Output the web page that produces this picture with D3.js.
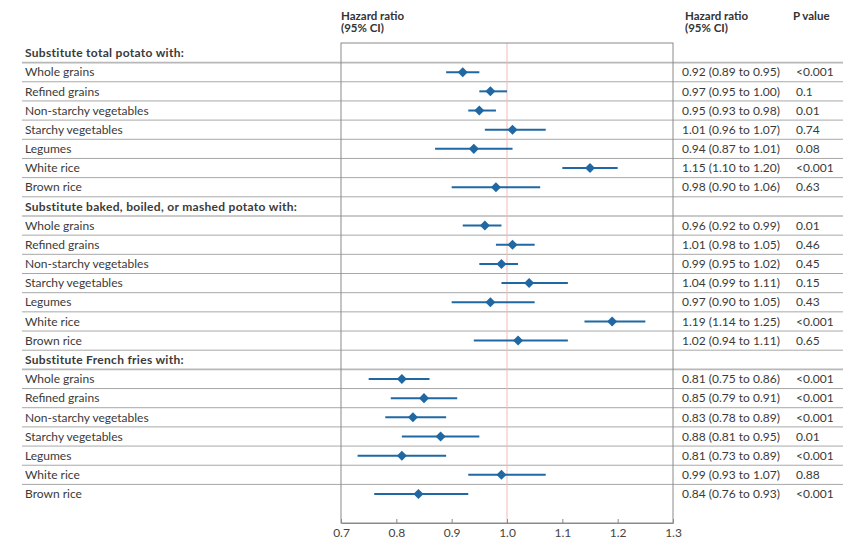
<!DOCTYPE html>
<html>
<head>
<meta charset="utf-8">
<script src="https://cdn.jsdelivr.net/npm/d3@7"></script>
<style>
  body { margin: 0; background: #fff; }
  text { font-family: Lato, "Open Sans", sans-serif; }
</style>
</head>
<body>
<script>
// data
const groups = [
  "Substitute total potato with:",
  "Substitute baked, boiled, or mashed potato with:",
  "Substitute French fries with:"
];
const foods = ["Whole grains", "Refined grains", "Non-starchy vegetables", "Starchy vegetables", "Legumes", "White rice", "Brown rice"];

const hr = [
  [0.92, 0.97, 0.95, 1.01, 0.94, 1.15, 0.98],
  [0.96, 1.01, 0.99, 1.04, 0.97, 1.19, 1.02],
  [0.81, 0.85, 0.83, 0.88, 0.81, 0.99, 0.84]
];
const lower = [
  [0.89, 0.95, 0.93, 0.96, 0.87, 1.10, 0.90],
  [0.92, 0.98, 0.95, 0.99, 0.90, 1.14, 0.94],
  [0.75, 0.79, 0.78, 0.81, 0.73, 0.93, 0.76]
];
const upper = [
  [0.95, 1.00, 0.98, 1.07, 1.01, 1.20, 1.06],
  [0.99, 1.05, 1.02, 1.11, 1.05, 1.25, 1.11],
  [0.86, 0.91, 0.89, 0.95, 0.89, 1.07, 0.93]
];
const pvals = [
  ["<0.001", "0.1", "0.01", "0.74", "0.08", "<0.001", "0.63"],
  ["0.01", "0.46", "0.45", "0.15", "0.43", "<0.001", "0.65"],
  ["<0.001", "<0.001", "<0.001", "0.01", "<0.001", "0.88", "<0.001"]
];
const ticks = [0.7, 0.8, 0.9, 1.0, 1.1, 1.2, 1.3];

// flatten into rows
let rows = [];
groups.forEach((g, gi) => {
  rows.push({ header: true, label: g });
  foods.forEach((f, i) => {
    rows.push({ header: false, label: f, hr: hr[gi][i], lo: lower[gi][i], hi: upper[gi][i], p: pvals[gi][i] });
  });
});

let svg = d3.select("body")
  .append("svg")
  .attr("width", 857)
  .attr("height", 546)

let box = { left: 341, right: 673, top: 43, bottom: 523 };

let x = d3.scaleLinear().domain([0.7, 1.3]).range([box.left, box.right]);
let y = d3.scalePoint().domain(d3.range(rows.length)).range([53, 494]);
let step = y.step();

const f2 = d3.format(".2f");
const textCol = "#3a3a3a";
const markCol = "#1f68a3";

// separator lines
svg.append("g")
  .selectAll("line")
  .data(rows.slice(0, -1))
  .enter()
  .append("line")
  .attr("x1", 22)
  .attr("x2", 843)
  .attr("y1", (d, i) => y(i) + step / 2)
  .attr("y2", (d, i) => y(i) + step / 2)
  .attr("stroke", d => d.header ? "#b8b8b8" : "#a8a8a8")
  .attr("stroke-width", d => d.header ? 1.6 : 1)

// box + reference line
svg.append("line")
  .attr("x1", x(1)).attr("x2", x(1))
  .attr("y1", box.top).attr("y2", box.bottom)
  .attr("stroke", "#f2b8b8")
  .attr("stroke-width", 1)

svg.append("rect")
  .attr("x", box.left).attr("y", box.top)
  .attr("width", box.right - box.left)
  .attr("height", box.bottom - box.top)
  .attr("fill", "none")
  .attr("stroke", "#8a8a8a")
  .attr("stroke-width", 1)

// axis
let axis = svg.append("g")
  .attr("transform", `translate(0,${box.bottom})`)
  .call(d3.axisBottom(x).tickValues(ticks).tickFormat(d3.format(".1f")).tickSizeInner(-4).tickSizeOuter(0).tickPadding(5))
axis.select(".domain").attr("stroke", "#8a8a8a")
axis.selectAll(".tick line").attr("stroke", "#8a8a8a")
axis.selectAll("text")
  .attr("fill", "#444")
  .style("font-family", "Lato, 'Open Sans', sans-serif")
  .style("font-size", "12px")

// column headers
const headers = [
  { x: 341, lines: ["Hazard ratio", "(95% CI)"] },
  { x: 685, lines: ["Hazard ratio", "(95% CI)"] },
  { x: 793, lines: ["P value"] }
];
headers.forEach(h => {
  let t = svg.append("text")
    .attr("x", h.x).attr("y", 20)
    .attr("fill", "#333")
    .attr("font-weight", "bold")
    .attr("font-size", 11.5)
  h.lines.forEach((l, i) => {
    t.append("tspan").attr("x", h.x).attr("dy", i ? 12 : 0).text(l)
  })
});

// row labels
let rowG = svg.append("g")
  .selectAll("g")
  .data(rows)
  .enter()
  .append("g")
  .attr("transform", (d, i) => `translate(0,${y(i)})`)

rowG.append("text")
  .attr("x", 25)
  .attr("dy", "0.35em")
  .attr("font-size", 12)
  .attr("font-weight", d => d.header ? "bold" : "normal")
  .attr("letter-spacing", d => d.header ? 0.3 : 0)
  .attr("fill", textCol)
  .text(d => d.label)

let items = rowG.filter(d => !d.header);

items.append("line")
  .attr("x1", d => x(d.lo))
  .attr("x2", d => x(d.hi))
  .attr("stroke", markCol)
  .attr("stroke-width", 2)

items.append("path")
  .attr("d", d3.symbol().type(d3.symbolDiamond2).size(64))
  .attr("transform", d => `translate(${x(d.hr)},0)`)
  .attr("fill", markCol)

items.append("text")
  .attr("x", 682)
  .attr("dy", "0.35em")
  .attr("font-size", 12)
  .attr("fill", textCol)
  .text(d => `${f2(d.hr)} (${f2(d.lo)} to ${f2(d.hi)})`)

items.append("text")
  .attr("x", 796)
  .attr("dy", "0.35em")
  .attr("font-size", 12)
  .attr("fill", textCol)
  .text(d => d.p)
</script>
</body>
</html>
